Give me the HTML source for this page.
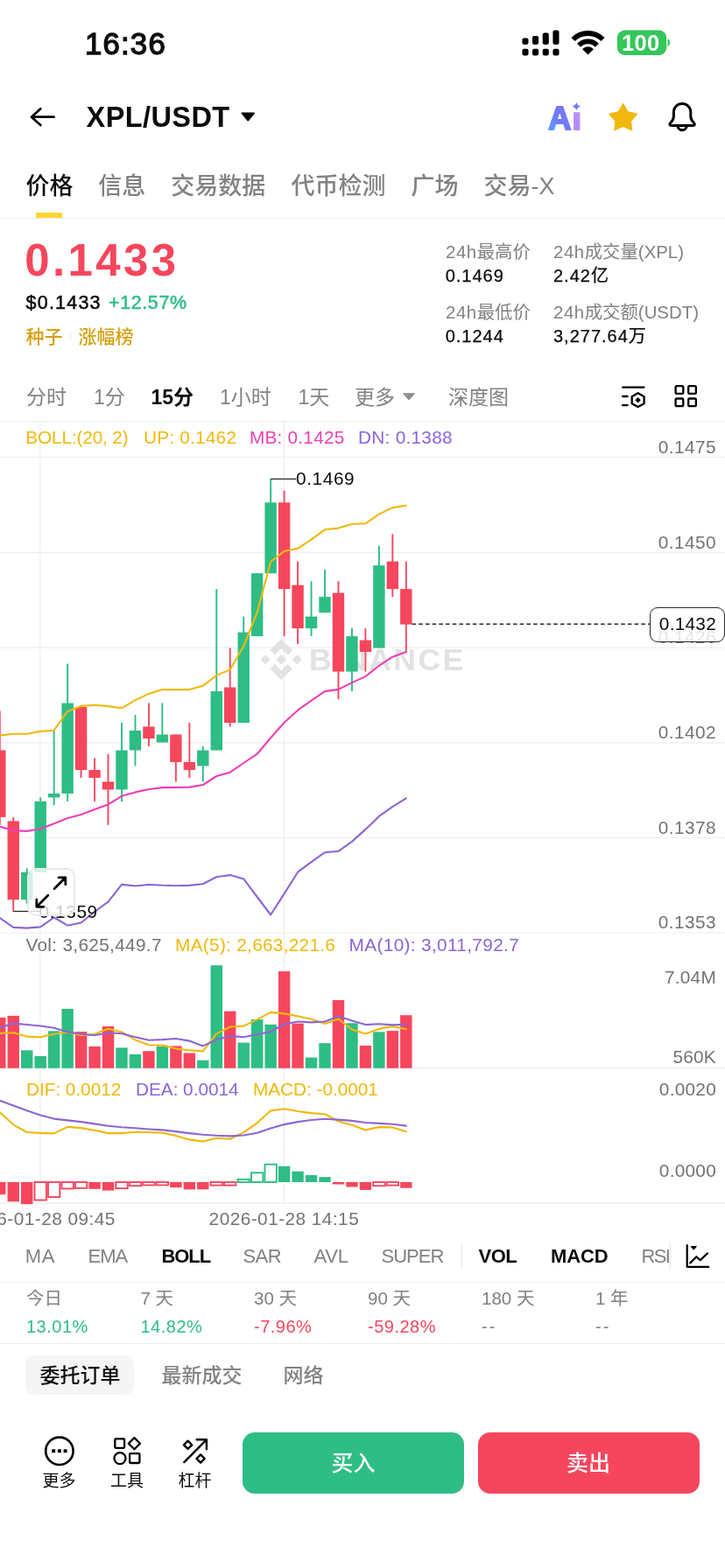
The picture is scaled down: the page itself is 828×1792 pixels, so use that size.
<!DOCTYPE html>
<html lang="zh-CN">
<head>
<meta charset="utf-8">
<meta name="viewport" content="width=828">
<title>XPL/USDT</title>
<style>
html,body{margin:0;padding:0;background:#fff;}
body{width:828px;height:1792px;position:relative;overflow:hidden;font-family:"Liberation Sans","Noto Sans CJK SC",sans-serif;color:#0B0B0B;}
#app{position:absolute;left:0;top:0;width:828px;height:1792px;overflow:hidden;background:#fff;}
#app div{position:absolute;white-space:nowrap;}
#app svg{position:absolute;left:0;top:0;}
.hl{left:0;width:828px;height:1px;background:#EEEEEE;}
svg text{font-family:"Liberation Sans","Noto Sans CJK SC",sans-serif;}
</style>
</head>
<body>
<div id="app">
<svg width="828" height="1792" viewBox="0 0 828 1792">
<g stroke="#EEEEEE" stroke-width="1.2" fill="none">
<path d="M0 522.5H828"/>
<path d="M0 631.3H828"/>
<path d="M0 740.1H828"/>
<path d="M0 848.8H828"/>
<path d="M0 957.4H828"/>
<path d="M0 1066.0H828"/>
<path d="M0 1220.9H828"/>
<path d="M0 1375.2H828"/>
<path d="M45.9 481.5V1375"/>
<path d="M324.4 481.5V1375"/>
</g>
<g fill="#E2E2E2">
<path d="M321.20 747.95L326.95 753.70L321.20 759.45L315.45 753.70ZM303.12 748.16L308.66 753.70L303.12 759.24L297.58 753.70ZM339.28 748.16L344.82 753.70L339.28 759.24L333.74 753.70Z"/>
<path fill="none" stroke="#E2E2E2" stroke-width="7.5" stroke-linejoin="miter" d="M311.17 745.76L321.20 735.73L331.23 745.76M311.17 761.64L321.20 771.67L331.23 761.64"/>
<text x="353" y="766.4" font-size="35.5" font-weight="700" letter-spacing="2.4" fill="#E2E2E2">BINANCE</text>
</g>
<path d="M-0.20 812.50V942.86" stroke="#F6465D" stroke-width="1.9"/>
<rect x="-6.90" y="857.45" width="13.4" height="76.41" fill="#F6465D"/>
<path d="M15.27 933.87V1041.75" stroke="#F6465D" stroke-width="1.9"/>
<rect x="8.57" y="938.37" width="13.4" height="89.90" fill="#F6465D"/>
<path d="M30.73 992.30V1032.76" stroke="#2EBD85" stroke-width="1.9"/>
<rect x="24.03" y="996.80" width="13.4" height="31.46" fill="#2EBD85"/>
<path d="M46.20 911.39V996.80" stroke="#2EBD85" stroke-width="1.9"/>
<rect x="39.50" y="915.89" width="13.4" height="80.91" fill="#2EBD85"/>
<path d="M61.67 834.98V920.38" stroke="#2EBD85" stroke-width="1.9"/>
<rect x="54.97" y="906.90" width="13.4" height="4.50" fill="#2EBD85"/>
<path d="M77.14 758.56V915.89" stroke="#2EBD85" stroke-width="1.9"/>
<rect x="70.44" y="803.51" width="13.4" height="103.38" fill="#2EBD85"/>
<path d="M92.60 808.01V888.92" stroke="#F6465D" stroke-width="1.9"/>
<rect x="85.90" y="808.01" width="13.4" height="71.92" fill="#F6465D"/>
<path d="M108.07 866.44V915.89" stroke="#F6465D" stroke-width="1.9"/>
<rect x="101.37" y="879.93" width="13.4" height="8.99" fill="#F6465D"/>
<path d="M123.54 861.95V942.86" stroke="#F6465D" stroke-width="1.9"/>
<rect x="116.84" y="893.41" width="13.4" height="8.99" fill="#F6465D"/>
<path d="M139.00 825.99V915.89" stroke="#2EBD85" stroke-width="1.9"/>
<rect x="132.30" y="857.45" width="13.4" height="44.95" fill="#2EBD85"/>
<path d="M154.47 817.00V875.43" stroke="#2EBD85" stroke-width="1.9"/>
<rect x="147.77" y="834.98" width="13.4" height="22.47" fill="#2EBD85"/>
<path d="M169.94 803.51V852.96" stroke="#F6465D" stroke-width="1.9"/>
<rect x="163.24" y="830.48" width="13.4" height="13.49" fill="#F6465D"/>
<path d="M185.40 803.51V848.46" stroke="#2EBD85" stroke-width="1.9"/>
<rect x="178.70" y="839.47" width="13.4" height="8.99" fill="#2EBD85"/>
<path d="M200.87 839.47V893.41" stroke="#F6465D" stroke-width="1.9"/>
<rect x="194.17" y="839.47" width="13.4" height="31.47" fill="#F6465D"/>
<path d="M216.34 825.99V888.92" stroke="#F6465D" stroke-width="1.9"/>
<rect x="209.64" y="870.94" width="13.4" height="8.99" fill="#F6465D"/>
<path d="M231.81 852.96V893.41" stroke="#2EBD85" stroke-width="1.9"/>
<rect x="225.11" y="857.45" width="13.4" height="17.98" fill="#2EBD85"/>
<path d="M247.27 673.16V857.45" stroke="#2EBD85" stroke-width="1.9"/>
<rect x="240.57" y="790.03" width="13.4" height="67.42" fill="#2EBD85"/>
<path d="M262.74 740.58V830.48" stroke="#F6465D" stroke-width="1.9"/>
<rect x="256.04" y="785.53" width="13.4" height="40.46" fill="#F6465D"/>
<path d="M278.21 704.62V825.99" stroke="#2EBD85" stroke-width="1.9"/>
<rect x="271.51" y="722.61" width="13.4" height="103.38" fill="#2EBD85"/>
<path d="M293.67 655.18V727.10" stroke="#2EBD85" stroke-width="1.9"/>
<rect x="286.97" y="655.18" width="13.4" height="71.92" fill="#2EBD85"/>
<path d="M309.14 547.30V655.18" stroke="#2EBD85" stroke-width="1.9"/>
<rect x="302.44" y="574.27" width="13.4" height="80.91" fill="#2EBD85"/>
<path d="M324.61 560.78V727.10" stroke="#F6465D" stroke-width="1.9"/>
<rect x="317.91" y="574.27" width="13.4" height="98.89" fill="#F6465D"/>
<path d="M340.07 641.69V736.09" stroke="#F6465D" stroke-width="1.9"/>
<rect x="333.37" y="668.66" width="13.4" height="49.44" fill="#F6465D"/>
<path d="M355.54 664.17V727.10" stroke="#2EBD85" stroke-width="1.9"/>
<rect x="348.84" y="704.62" width="13.4" height="13.48" fill="#2EBD85"/>
<path d="M371.01 650.68V700.13" stroke="#2EBD85" stroke-width="1.9"/>
<rect x="364.31" y="682.15" width="13.4" height="17.98" fill="#2EBD85"/>
<path d="M386.48 664.17V799.02" stroke="#F6465D" stroke-width="1.9"/>
<rect x="379.78" y="677.65" width="13.4" height="89.90" fill="#F6465D"/>
<path d="M401.94 718.11V790.03" stroke="#2EBD85" stroke-width="1.9"/>
<rect x="395.24" y="727.10" width="13.4" height="40.46" fill="#2EBD85"/>
<path d="M417.41 718.11V767.55" stroke="#F6465D" stroke-width="1.9"/>
<rect x="410.71" y="731.60" width="13.4" height="13.48" fill="#F6465D"/>
<path d="M432.88 623.71V740.58" stroke="#2EBD85" stroke-width="1.9"/>
<rect x="426.18" y="646.19" width="13.4" height="94.39" fill="#2EBD85"/>
<path d="M448.34 610.23V682.15" stroke="#F6465D" stroke-width="1.9"/>
<rect x="441.64" y="641.69" width="13.4" height="31.47" fill="#F6465D"/>
<path d="M463.81 641.69V745.08" stroke="#F6465D" stroke-width="1.9"/>
<rect x="457.11" y="673.16" width="13.4" height="40.46" fill="#F6465D"/>
<polyline points="-0.20,840.50 15.27,838.80 30.73,838.80 46.20,835.90 61.67,834.70 77.14,812.90 92.60,806.90 108.07,805.70 123.54,807.10 139.00,809.30 154.47,800.10 169.94,792.90 185.40,788.10 200.87,788.10 216.34,788.10 231.81,783.80 247.27,771.90 262.74,765.40 278.21,738.60 293.67,700.00 309.14,642.00 324.61,629.90 340.07,626.80 355.54,616.60 371.01,605.30 386.48,603.60 401.94,599.00 417.41,598.30 432.88,587.60 448.34,580.10 463.81,577.70" fill="none" stroke="#F0B90B" stroke-width="2.1" stroke-linejoin="round" stroke-linecap="round"/>
<polyline points="-0.20,944.80 15.27,949.10 30.73,949.90 46.20,947.20 61.67,941.20 77.14,935.10 92.60,931.00 108.07,925.00 123.54,919.40 139.00,909.80 154.47,905.40 169.94,902.00 185.40,900.10 200.87,899.90 216.34,899.60 231.81,897.00 247.27,887.00 262.74,882.70 278.21,872.00 293.67,861.70 309.14,843.30 324.61,825.70 340.07,811.70 355.54,800.60 371.01,790.10 386.48,787.90 401.94,780.10 417.41,773.10 432.88,760.80 448.34,750.70 463.81,745.10" fill="none" stroke="#EB40B5" stroke-width="2.1" stroke-linejoin="round" stroke-linecap="round"/>
<polyline points="-0.20,1049.00 15.27,1059.90 30.73,1060.60 46.20,1059.40 61.67,1048.50 77.14,1057.70 92.60,1054.50 108.07,1042.00 123.54,1030.70 139.00,1010.90 154.47,1012.50 169.94,1011.00 185.40,1011.80 200.87,1012.20 216.34,1011.90 231.81,1010.20 247.27,1002.30 262.74,1000.10 278.21,1004.40 293.67,1025.00 309.14,1045.50 324.61,1021.40 340.07,996.70 355.54,985.10 371.01,974.20 386.48,972.80 401.94,961.90 417.41,947.90 432.88,932.90 448.34,921.80 463.81,912.40" fill="none" stroke="#8C66D6" stroke-width="2.1" stroke-linejoin="round" stroke-linecap="round"/>
<path d="M309.14 547.4H338" stroke="#222" stroke-width="1.2"/>
<path d="M15.27 1041.5H46" stroke="#222" stroke-width="1.2"/>
<path d="M470.51 713.3H742" stroke="#2b2b2b" stroke-width="1.4" stroke-dasharray="4.6 3.1"/>
<rect x="-6.90" y="1162.90" width="13.4" height="57.90" fill="#F6465D"/>
<rect x="8.57" y="1160.90" width="13.4" height="59.90" fill="#F6465D"/>
<rect x="24.03" y="1200.30" width="13.4" height="20.50" fill="#2EBD85"/>
<rect x="39.50" y="1207.00" width="13.4" height="13.80" fill="#2EBD85"/>
<rect x="54.97" y="1178.30" width="13.4" height="42.50" fill="#2EBD85"/>
<rect x="70.44" y="1153.00" width="13.4" height="67.80" fill="#2EBD85"/>
<rect x="85.90" y="1179.10" width="13.4" height="41.70" fill="#F6465D"/>
<rect x="101.37" y="1195.90" width="13.4" height="24.90" fill="#F6465D"/>
<rect x="116.84" y="1173.00" width="13.4" height="47.80" fill="#F6465D"/>
<rect x="132.30" y="1197.40" width="13.4" height="23.40" fill="#2EBD85"/>
<rect x="147.77" y="1204.90" width="13.4" height="15.90" fill="#2EBD85"/>
<rect x="163.24" y="1201.20" width="13.4" height="19.60" fill="#F6465D"/>
<rect x="178.70" y="1195.70" width="13.4" height="25.10" fill="#2EBD85"/>
<rect x="194.17" y="1195.40" width="13.4" height="25.40" fill="#F6465D"/>
<rect x="209.64" y="1203.50" width="13.4" height="17.30" fill="#F6465D"/>
<rect x="225.11" y="1211.70" width="13.4" height="9.10" fill="#2EBD85"/>
<rect x="240.57" y="1103.20" width="13.4" height="117.60" fill="#2EBD85"/>
<rect x="256.04" y="1155.70" width="13.4" height="65.10" fill="#F6465D"/>
<rect x="271.51" y="1191.60" width="13.4" height="29.20" fill="#2EBD85"/>
<rect x="286.97" y="1165.10" width="13.4" height="55.70" fill="#2EBD85"/>
<rect x="302.44" y="1170.80" width="13.4" height="50.00" fill="#2EBD85"/>
<rect x="317.91" y="1110.10" width="13.4" height="110.70" fill="#F6465D"/>
<rect x="333.37" y="1169.60" width="13.4" height="51.20" fill="#F6465D"/>
<rect x="348.84" y="1208.60" width="13.4" height="12.20" fill="#2EBD85"/>
<rect x="364.31" y="1192.20" width="13.4" height="28.60" fill="#2EBD85"/>
<rect x="379.78" y="1143.00" width="13.4" height="77.80" fill="#F6465D"/>
<rect x="395.24" y="1169.30" width="13.4" height="51.50" fill="#2EBD85"/>
<rect x="410.71" y="1195.00" width="13.4" height="25.80" fill="#F6465D"/>
<rect x="426.18" y="1179.30" width="13.4" height="41.50" fill="#2EBD85"/>
<rect x="441.64" y="1178.10" width="13.4" height="42.70" fill="#F6465D"/>
<rect x="457.11" y="1160.20" width="13.4" height="60.60" fill="#F6465D"/>
<polyline points="-0.20,1180.90 15.27,1180.30 30.73,1184.60 46.20,1185.20 61.67,1181.70 77.14,1179.70 92.60,1183.20 108.07,1181.70 123.54,1175.70 139.00,1179.40 154.47,1188.40 169.94,1194.20 185.40,1194.50 200.87,1198.60 216.34,1200.30 231.81,1201.40 247.27,1181.40 262.74,1173.50 278.21,1172.60 293.67,1165.10 309.14,1156.90 324.61,1158.40 340.07,1161.40 355.54,1164.80 371.01,1169.90 386.48,1164.50 401.94,1176.50 417.41,1181.40 432.88,1175.90 448.34,1172.90 463.81,1176.20" fill="none" stroke="#F0B90B" stroke-width="2.1" stroke-linejoin="round" stroke-linecap="round"/>
<polyline points="-0.20,1174.50 15.27,1169.60 30.73,1171.00 46.20,1172.50 61.67,1174.80 77.14,1179.40 92.60,1181.70 108.07,1183.20 123.54,1180.30 139.00,1181.20 154.47,1185.20 169.94,1188.70 185.40,1188.10 200.87,1187.00 216.34,1189.60 231.81,1195.40 247.27,1188.30 262.74,1184.10 278.21,1185.30 293.67,1182.30 309.14,1179.00 324.61,1170.50 340.07,1167.50 355.54,1168.40 371.01,1167.50 386.48,1161.40 401.94,1166.60 417.41,1171.10 432.88,1170.20 448.34,1171.40 463.81,1170.80" fill="none" stroke="#8C66D6" stroke-width="2.1" stroke-linejoin="round" stroke-linecap="round"/>
<rect x="-6.90" y="1351.00" width="13.4" height="14.20" fill="#F6465D"/>
<rect x="8.57" y="1351.00" width="13.4" height="22.30" fill="#F6465D"/>
<rect x="24.03" y="1351.00" width="13.4" height="25.20" fill="#F6465D"/>
<rect x="39.50" y="1351.00" width="13.40" height="20.55" fill="none" stroke="#F6465D" stroke-width="1.9"/>
<rect x="54.97" y="1351.00" width="13.40" height="17.05" fill="none" stroke="#F6465D" stroke-width="1.9"/>
<rect x="70.44" y="1351.00" width="13.40" height="7.45" fill="none" stroke="#F6465D" stroke-width="1.9"/>
<rect x="85.90" y="1351.00" width="13.40" height="6.85" fill="none" stroke="#F6465D" stroke-width="1.9"/>
<rect x="101.37" y="1351.00" width="13.4" height="7.80" fill="#F6465D"/>
<rect x="116.84" y="1351.00" width="13.4" height="9.60" fill="#F6465D"/>
<rect x="132.30" y="1351.00" width="13.40" height="7.15" fill="none" stroke="#F6465D" stroke-width="1.9"/>
<rect x="147.77" y="1351.00" width="13.40" height="4.25" fill="none" stroke="#F6465D" stroke-width="1.9"/>
<rect x="163.24" y="1351.00" width="13.40" height="3.45" fill="none" stroke="#F6465D" stroke-width="1.9"/>
<rect x="178.70" y="1351.00" width="13.40" height="3.45" fill="none" stroke="#F6465D" stroke-width="1.9"/>
<rect x="194.17" y="1351.00" width="13.4" height="6.10" fill="#F6465D"/>
<rect x="209.64" y="1351.00" width="13.4" height="8.40" fill="#F6465D"/>
<rect x="225.11" y="1351.00" width="13.4" height="8.30" fill="#F6465D"/>
<rect x="240.57" y="1351.00" width="13.40" height="3.65" fill="none" stroke="#F6465D" stroke-width="1.9"/>
<rect x="256.04" y="1351.00" width="13.40" height="3.65" fill="none" stroke="#F6465D" stroke-width="1.9"/>
<rect x="271.51" y="1347.90" width="13.40" height="3.10" fill="none" stroke="#2EBD85" stroke-width="1.9"/>
<rect x="286.97" y="1340.30" width="13.40" height="10.70" fill="none" stroke="#2EBD85" stroke-width="1.9"/>
<rect x="302.44" y="1330.70" width="13.40" height="20.30" fill="none" stroke="#2EBD85" stroke-width="1.9"/>
<rect x="317.91" y="1332.75" width="13.4" height="18.25" fill="#2EBD85"/>
<rect x="333.37" y="1338.75" width="13.4" height="12.25" fill="#2EBD85"/>
<rect x="348.84" y="1343.05" width="13.4" height="7.95" fill="#2EBD85"/>
<rect x="364.31" y="1345.15" width="13.4" height="5.85" fill="#2EBD85"/>
<rect x="379.78" y="1351.00" width="13.4" height="2.50" fill="#F6465D"/>
<rect x="395.24" y="1351.00" width="13.4" height="5.50" fill="#F6465D"/>
<rect x="410.71" y="1351.00" width="13.4" height="8.90" fill="#F6465D"/>
<rect x="426.18" y="1351.00" width="13.40" height="4.25" fill="none" stroke="#F6465D" stroke-width="1.9"/>
<rect x="441.64" y="1351.00" width="13.40" height="3.65" fill="none" stroke="#F6465D" stroke-width="1.9"/>
<rect x="457.11" y="1351.00" width="13.4" height="6.70" fill="#F6465D"/>
<polyline points="-0.20,1271.40 15.27,1285.30 30.73,1294.00 46.20,1294.90 61.67,1295.40 77.14,1287.90 92.60,1289.10 108.07,1291.70 123.54,1295.10 139.00,1295.10 154.47,1293.70 169.94,1294.00 185.40,1294.60 200.87,1298.00 216.34,1302.40 231.81,1304.60 247.27,1300.80 262.74,1301.70 278.21,1294.10 293.67,1283.30 309.14,1269.40 324.61,1267.30 340.07,1270.00 355.54,1272.10 371.01,1273.30 386.48,1281.50 401.94,1285.70 417.41,1291.40 432.88,1288.10 448.34,1288.40 463.81,1293.20" fill="none" stroke="#F0B90B" stroke-width="2.1" stroke-linejoin="round" stroke-linecap="round"/>
<polyline points="-0.20,1257.80 15.27,1263.60 30.73,1269.30 46.20,1274.60 61.67,1278.60 77.14,1280.40 92.60,1282.10 108.07,1284.40 123.54,1286.70 139.00,1288.20 154.47,1289.30 169.94,1290.50 185.40,1291.40 200.87,1293.10 216.34,1295.10 231.81,1296.80 247.27,1297.80 262.74,1298.40 278.21,1297.50 293.67,1294.70 309.14,1289.60 324.61,1285.10 340.07,1282.10 355.54,1280.00 371.01,1278.70 386.48,1279.60 401.94,1280.90 417.41,1283.00 432.88,1283.90 448.34,1284.80 463.81,1286.60" fill="none" stroke="#8C66D6" stroke-width="2.1" stroke-linejoin="round" stroke-linecap="round"/>
</svg>
<div style="top:33.34px;font-size:34.8px;line-height:34.8px;color:#0B0B0B;letter-spacing:1.2px;left:96.90px;-webkit-text-stroke:1.3px #0B0B0B;">16:36</div>
<div style="top:36.61px;font-size:25.5px;line-height:25.5px;color:#fff;font-weight:700;letter-spacing:0.3px;left:731.70px;transform:translateX(-50%);z-index:3;">100</div>
<div style="top:117.89px;font-size:32.5px;line-height:32.5px;color:#0B0B0B;font-weight:700;letter-spacing:0.4px;left:98.60px;">XPL/USDT</div>
<div style="top:199.94px;font-size:27px;line-height:27px;color:#0B0B0B;font-weight:500;left:29.50px;">价格</div>
<div style="top:199.94px;font-size:27px;line-height:27px;color:#828282;font-weight:500;left:112.30px;">信息</div>
<div style="top:199.94px;font-size:27px;line-height:27px;color:#828282;font-weight:500;left:195.30px;">交易数据</div>
<div style="top:199.94px;font-size:27px;line-height:27px;color:#828282;font-weight:500;left:332.40px;">代币检测</div>
<div style="top:199.94px;font-size:27px;line-height:27px;color:#828282;font-weight:500;left:469.40px;">广场</div>
<div style="top:199.94px;font-size:27px;line-height:27px;color:#828282;font-weight:500;left:552.40px;">交易-X</div>
<div style="left:41px;top:243px;width:29.5px;height:6px;background:#FCD535;"></div>
<div class="hl" style="top:249px;"></div>
<div style="top:271.73px;font-size:51px;line-height:51px;color:#F6465D;font-weight:700;letter-spacing:3.4px;left:28.20px;">0.1433</div>
<div style="top:336.40px;font-size:21.5px;line-height:21.5px;color:#0B0B0B;letter-spacing:1.2px;left:29.60px;-webkit-text-stroke:0.5px #0B0B0B;">$0.1433</div>
<div style="top:336.40px;font-size:21.5px;line-height:21.5px;color:#2EBD85;letter-spacing:0.6px;left:124.00px;-webkit-text-stroke:0.5px #2EBD85;">+12.57%</div>
<div style="top:373.72px;font-size:21px;line-height:21px;color:#D6A010;font-weight:500;left:29.50px;">种子</div>
<div style="left:80px;top:379px;width:1px;height:10px;background:#EAEAEA;"></div>
<div style="top:373.72px;font-size:21px;line-height:21px;color:#D6A010;font-weight:500;left:89.50px;">涨幅榜</div>
<div style="top:277.73px;font-size:20.4px;line-height:20.4px;color:#828282;left:509.00px;"><span style="letter-spacing:0.55px">24h</span>最高价</div>
<div style="top:304.57px;font-size:20px;line-height:20px;color:#0B0B0B;letter-spacing:1.0px;left:508.70px;-webkit-text-stroke:0.25px #0B0B0B;">0.1469</div>
<div style="top:277.73px;font-size:20.4px;line-height:20.4px;color:#828282;left:632.00px;"><span style="letter-spacing:0.55px">24h</span>成交量(XPL)</div>
<div style="top:304.57px;font-size:20px;line-height:20px;color:#0B0B0B;letter-spacing:1.0px;left:632.00px;-webkit-text-stroke:0.25px #0B0B0B;">2.42亿</div>
<div style="top:347.23px;font-size:20.4px;line-height:20.4px;color:#828282;left:509.00px;"><span style="letter-spacing:0.55px">24h</span>最低价</div>
<div style="top:374.07px;font-size:20px;line-height:20px;color:#0B0B0B;letter-spacing:1.0px;left:508.70px;-webkit-text-stroke:0.25px #0B0B0B;">0.1244</div>
<div style="top:347.23px;font-size:20.4px;line-height:20.4px;color:#828282;left:632.00px;"><span style="letter-spacing:0.55px">24h</span>成交额(USDT)</div>
<div style="top:374.07px;font-size:20px;line-height:20px;color:#0B0B0B;letter-spacing:1.0px;left:632.00px;-webkit-text-stroke:0.25px #0B0B0B;">3,277.64万</div>
<div style="top:442.53px;font-size:23px;line-height:23px;color:#828282;left:30.00px;">分时</div>
<div style="top:442.53px;font-size:23px;line-height:23px;color:#828282;left:107.00px;">1分</div>
<div style="top:442.53px;font-size:23px;line-height:23px;color:#0B0B0B;font-weight:700;left:172.50px;">15分</div>
<div style="top:442.53px;font-size:23px;line-height:23px;color:#828282;left:251.00px;">1小时</div>
<div style="top:442.53px;font-size:23px;line-height:23px;color:#828282;left:340.50px;">1天</div>
<div style="top:442.53px;font-size:23px;line-height:23px;color:#828282;left:405.00px;">更多</div>
<div style="top:442.53px;font-size:23px;line-height:23px;color:#828282;left:512.00px;">深度图</div>
<div class="hl" style="top:481px;"></div>
<div style="top:1424.78px;font-size:22px;line-height:22px;color:#828282;letter-spacing:0.6px;left:28.80px;">MA</div>
<div style="top:1424.78px;font-size:22px;line-height:22px;color:#828282;letter-spacing:-1.0px;left:100.50px;">EMA</div>
<div style="top:1424.78px;font-size:22px;line-height:22px;color:#0B0B0B;font-weight:700;letter-spacing:-1.1px;left:184.50px;">BOLL</div>
<div style="top:1424.78px;font-size:22px;line-height:22px;color:#828282;letter-spacing:-0.6px;left:277.50px;">SAR</div>
<div style="top:1424.78px;font-size:22px;line-height:22px;color:#828282;letter-spacing:-0.2px;left:358.50px;">AVL</div>
<div style="top:1424.78px;font-size:22px;line-height:22px;color:#828282;letter-spacing:-1.0px;left:435.50px;">SUPER</div>
<div style="top:1424.78px;font-size:22px;line-height:22px;color:#0B0B0B;font-weight:700;letter-spacing:-0.5px;left:546.50px;">VOL</div>
<div style="top:1424.78px;font-size:22px;line-height:22px;color:#0B0B0B;font-weight:700;letter-spacing:-0.1px;left:629.00px;">MACD</div>
<div style="left:730px;top:1420px;width:35px;height:32px;overflow:hidden;"><div style="left:2.6px;top:4.78px;font-size:22px;line-height:22px;color:#828282;letter-spacing:-1.7px;">RSI</div></div>
<div style="left:527px;top:1421px;width:1px;height:29px;background:#E4E4E4;"></div>
<div style="left:765px;top:1421px;width:1px;height:29px;background:#E4E4E4;"></div>
<div class="hl" style="top:1465px;"></div>
<div style="top:1474.15px;font-size:20.5px;line-height:20.5px;color:#828282;left:30.00px;">今日</div>
<div style="top:1505.57px;font-size:20px;line-height:20px;color:#2EBD85;letter-spacing:0.5px;left:30.00px;">13.01%</div>
<div style="top:1474.15px;font-size:20.5px;line-height:20.5px;color:#828282;left:160.50px;">7 天</div>
<div style="top:1505.57px;font-size:20px;line-height:20px;color:#2EBD85;letter-spacing:0.5px;left:160.50px;">14.82%</div>
<div style="top:1474.15px;font-size:20.5px;line-height:20.5px;color:#828282;left:290.00px;">30 天</div>
<div style="top:1505.57px;font-size:20px;line-height:20px;color:#F6465D;letter-spacing:0.5px;left:290.00px;">-7.96%</div>
<div style="top:1474.15px;font-size:20.5px;line-height:20.5px;color:#828282;left:420.00px;">90 天</div>
<div style="top:1505.57px;font-size:20px;line-height:20px;color:#F6465D;letter-spacing:0.5px;left:420.00px;">-59.28%</div>
<div style="top:1474.15px;font-size:20.5px;line-height:20.5px;color:#828282;left:550.00px;">180 天</div>
<div style="top:1505.57px;font-size:20px;line-height:20px;color:#828282;letter-spacing:2.2px;left:550.00px;">--</div>
<div style="top:1474.15px;font-size:20.5px;line-height:20.5px;color:#828282;left:680.00px;">1 年</div>
<div style="top:1505.57px;font-size:20px;line-height:20px;color:#828282;letter-spacing:2.2px;left:680.00px;">--</div>
<div class="hl" style="top:1534.5px;"></div>
<div style="left:29px;top:1548.5px;width:123.5px;height:45.5px;border-radius:10px;background:#F5F5F5;"></div>
<div style="top:1560.83px;font-size:23px;line-height:23px;color:#0B0B0B;font-weight:500;left:45.50px;">委托订单</div>
<div style="top:1560.83px;font-size:23px;line-height:23px;color:#828282;font-weight:500;left:184.50px;">最新成交</div>
<div style="top:1560.83px;font-size:23px;line-height:23px;color:#828282;font-weight:500;left:323.50px;">网络</div>
<div style="top:1683.42px;font-size:19px;line-height:19px;color:#0B0B0B;left:67.50px;transform:translateX(-50%);">更多</div>
<div style="top:1683.42px;font-size:19px;line-height:19px;color:#0B0B0B;left:145.00px;transform:translateX(-50%);">工具</div>
<div style="top:1683.42px;font-size:19px;line-height:19px;color:#0B0B0B;left:222.50px;transform:translateX(-50%);">杠杆</div>
<div style="left:277px;top:1637px;width:253px;height:70px;border-radius:14px;background:#2EBD85;"></div>
<div style="left:546px;top:1637px;width:253px;height:70px;border-radius:14px;background:#F6465D;"></div>
<div style="top:1660.34px;font-size:25px;line-height:25px;color:#fff;font-weight:500;left:403.50px;transform:translateX(-50%);">买入</div>
<div style="top:1660.34px;font-size:25px;line-height:25px;color:#fff;font-weight:500;left:672.00px;transform:translateX(-50%);">卖出</div>
<div style="top:500.99px;font-size:20.8px;line-height:20.8px;color:#737373;letter-spacing:0.46px;right:10.00px;">0.1475</div>
<div style="top:609.69px;font-size:20.8px;line-height:20.8px;color:#737373;letter-spacing:0.46px;right:10.00px;">0.1450</div>
<div style="top:718.49px;font-size:20.8px;line-height:20.8px;color:#737373;letter-spacing:0.46px;right:10.00px;">0.1426</div>
<div style="top:827.19px;font-size:20.8px;line-height:20.8px;color:#737373;letter-spacing:0.46px;right:10.00px;">0.1402</div>
<div style="top:935.79px;font-size:20.8px;line-height:20.8px;color:#737373;letter-spacing:0.46px;right:10.00px;">0.1378</div>
<div style="top:1043.59px;font-size:20.8px;line-height:20.8px;color:#737373;letter-spacing:0.46px;right:10.00px;">0.1353</div>
<div style="top:1106.89px;font-size:20.8px;line-height:20.8px;color:#737373;letter-spacing:0.26px;right:10.00px;">7.04M</div>
<div style="top:1197.89px;font-size:20.8px;line-height:20.8px;color:#737373;letter-spacing:0.26px;right:10.00px;">560K</div>
<div style="top:1234.89px;font-size:20.8px;line-height:20.8px;color:#737373;letter-spacing:0.26px;right:10.00px;">0.0020</div>
<div style="top:1327.89px;font-size:20.8px;line-height:20.8px;color:#737373;letter-spacing:0.26px;right:10.00px;">0.0000</div>
<div style="top:489.69px;font-size:20.8px;line-height:20.8px;color:#F0B90B;letter-spacing:-0.15px;left:29.30px;">BOLL:(20, 2)</div>
<div style="top:489.69px;font-size:20.8px;line-height:20.8px;color:#F0B90B;letter-spacing:0.21px;left:164.00px;">UP: 0.1462</div>
<div style="top:489.69px;font-size:20.8px;line-height:20.8px;color:#EB40B5;letter-spacing:0.21px;left:285.00px;">MB: 0.1425</div>
<div style="top:489.69px;font-size:20.8px;line-height:20.8px;color:#8C66D6;letter-spacing:0.26px;left:409.00px;">DN: 0.1388</div>
<div style="top:1069.99px;font-size:20.8px;line-height:20.8px;color:#737373;letter-spacing:0.32px;left:29.40px;">Vol: 3,625,449.7</div>
<div style="top:1069.99px;font-size:20.8px;line-height:20.8px;color:#F0B90B;letter-spacing:0.28px;left:200.10px;">MA(5): 2,663,221.6</div>
<div style="top:1069.99px;font-size:20.8px;line-height:20.8px;color:#8C66D6;letter-spacing:0.34px;left:398.60px;">MA(10): 3,011,792.7</div>
<div style="top:1234.69px;font-size:20.8px;line-height:20.8px;color:#F0B90B;letter-spacing:-0.04px;left:30.00px;">DIF: 0.0012</div>
<div style="top:1234.69px;font-size:20.8px;line-height:20.8px;color:#8C66D6;letter-spacing:-0.04px;left:155.00px;">DEA: 0.0014</div>
<div style="top:1234.69px;font-size:20.8px;line-height:20.8px;color:#F0B90B;letter-spacing:-0.04px;left:289.00px;">MACD: -0.0001</div>
<div style="top:536.69px;font-size:20.8px;line-height:20.8px;color:#0B0B0B;letter-spacing:0.61px;left:338.00px;">0.1469</div>
<div style="top:1031.69px;font-size:20.8px;line-height:20.8px;color:#0B0B0B;letter-spacing:0.61px;left:44.50px;">0.1359</div>
<div style="top:1383.19px;font-size:20.8px;line-height:20.8px;color:#737373;letter-spacing:0.46px;left:46.00px;transform:translateX(-50%);">2026-01-28 09:45</div>
<div style="top:1383.19px;font-size:20.8px;line-height:20.8px;color:#737373;letter-spacing:0.46px;left:324.40px;transform:translateX(-50%);">2026-01-28 14:15</div>
<div style="left:741.5px;top:693.5px;width:84.5px;height:38px;border:1.2px solid #2a2a2a;border-radius:9px;background:rgba(255,255,255,0.82);box-sizing:content-box;"></div>
<div style="top:703.19px;font-size:20.8px;line-height:20.8px;color:#0B0B0B;letter-spacing:0.26px;right:10.00px;">0.1432</div>
<div style="left:31px;top:992px;width:51px;height:51px;border:2px solid #E9E9E9;border-radius:10px;background:rgba(255,255,255,0.78);"></div>
<svg width="828" height="1792" viewBox="0 0 828 1792" style="z-index:2;pointer-events:none">
<defs>
<linearGradient id="gA" x1="0" y1="1" x2="1" y2="0"><stop offset="0" stop-color="#5FA8FF"/><stop offset="0.45" stop-color="#6C7DFB"/><stop offset="1" stop-color="#8A6CF6"/></linearGradient>
<linearGradient id="gI" x1="0" y1="1" x2="1" y2="0"><stop offset="0" stop-color="#A884F8"/><stop offset="0.72" stop-color="#BE93F9"/><stop offset="0.95" stop-color="#F59A5A"/></linearGradient>
<clipPath id="noDot"><rect x="650" y="128.2" width="20" height="24"/></clipPath>
</defs>
<g fill="#000">
<rect x="596.4" y="43.4" width="7.1" height="7.5" rx="2.1"/>
<rect x="596.4" y="55.7" width="7.1" height="7.8" rx="2.1"/>
<rect x="608.0" y="41.0" width="7.1" height="9.9" rx="2.1"/>
<rect x="608.0" y="55.7" width="7.1" height="7.8" rx="2.1"/>
<rect x="619.7" y="37.6" width="7.1" height="13.3" rx="2.1"/>
<rect x="619.7" y="55.7" width="7.1" height="7.8" rx="2.1"/>
<rect x="631.4" y="34.5" width="7.1" height="16.4" rx="2.1"/>
<rect x="631.4" y="55.7" width="7.1" height="7.8" rx="2.1"/>
</g>
<path d="M654.46 45.06A24.1 24.1 0 0 1 688.54 45.06" fill="none" stroke="#000" stroke-width="5.8"/>
<path d="M661.11 51.71A14.7 14.7 0 0 1 681.89 51.71" fill="none" stroke="#000" stroke-width="5.8"/>
<path d="M671.5 62.1L665.56 56.16A8.4 8.4 0 0 1 677.44 56.16Z" fill="#000" stroke="#000" stroke-width="0.8" stroke-linejoin="round"/>
<rect x="704.9" y="34.5" width="56.3" height="28.5" rx="8.6" fill="#34C759"/>
<path d="M762.5 44.3c1.6 0.6 2.5 2.3 2.5 4.5s-0.9 3.9-2.5 4.5z" fill="#34C759"/>
<path d="M46.3 124.3L36 133.7L46.3 143.1M36.3 133.7H61.6" fill="none" stroke="#000" stroke-width="2.7" stroke-linecap="round" stroke-linejoin="round"/>
<path d="M276.4 129.3H290.1L283.25 137.6Z" fill="#000" stroke="#000" stroke-width="1.8" stroke-linejoin="round"/>
<text x="625.9" y="148.2" font-size="36.6" font-weight="700" fill="url(#gA)" stroke="url(#gA)" stroke-width="1.9" stroke-linejoin="round">A</text>
<text x="653.3" y="147.9" font-size="40" font-weight="700" fill="url(#gI)" stroke="url(#gI)" stroke-width="1.8" stroke-linejoin="round" clip-path="url(#noDot)">i</text>
<path d="M658.3 116.4Q659.1999999999999 120.6 663.4 121.5Q659.1999999999999 122.4 658.3 126.6Q657.4 122.4 653.1999999999999 121.5Q657.4 120.6 658.3 116.4Z" fill="#6B7EFF"/>
<path d="M711.67 118.60L716.70 127.80L727.60 130.40L720.30 138.40L721.60 148.60L711.67 144.30L701.80 148.60L703.00 138.40L695.90 130.40L706.60 127.80Z" fill="#F0B90B" stroke="#F0B90B" stroke-width="1.4" stroke-linejoin="round"/>
<path d="M769.4 128.1a9.7 9.7 0 0 1 19.4 0v4.6c0 3.2 1 5 3.3 7.3 1.9 1.9 1.6 3.5-0.9 3.5h-24.2c-2.5 0-2.8-1.6-0.9-3.5 2.3-2.3 3.3-4.1 3.3-7.3z" fill="none" stroke="#000" stroke-width="3" stroke-linejoin="round"/>
<path d="M773.9 143.6a5.2 5.2 0 0 0 10.4 0" fill="none" stroke="#000" stroke-width="3"/>
<path d="M460.8 449.8H473.2L467 456.6Z" fill="#8F8F8F" stroke="#8F8F8F" stroke-width="1.2" stroke-linejoin="round"/>
<g fill="none" stroke="#000" stroke-width="2.3" stroke-linecap="round" stroke-linejoin="round">
<path d="M711.1 442.6H735.4M711.1 453H716.6M711.1 463.2H716.6"/>
<path d="M728.6 449.2L735.6 453.2V461.2L728.6 465.1L721.7 461.2V453.2Z"/>
</g>
<path d="M728.6 454L731.8 457.2L728.6 460.4L725.4 457.2Z" fill="#000"/>
<g fill="none" stroke="#000" stroke-width="2.3">
<rect x="771.6" y="441.2" width="8.7" height="8.7" rx="1.4"/>
<rect x="771.6" y="455.5" width="8.7" height="8.7" rx="1.4"/>
<rect x="786.2" y="441.2" width="8.7" height="8.7" rx="1.4"/>
<rect x="786.2" y="455.5" width="8.7" height="8.7" rx="1.4"/>
</g>
<path d="M62 1015.7L74.7 1003M67 1002.9H74.8V1011M54.8 1023.3L41.9 1036.2M41.8 1028.2V1036.3H49.8" fill="none" stroke="#000" stroke-width="2.7" stroke-linecap="round" stroke-linejoin="round"/>
<path d="M784.7 1423.2V1447.8H809.3" fill="none" stroke="#000" stroke-width="2.2" stroke-linecap="round" stroke-linejoin="round"/>
<path d="M788.2 1443.4L795.4 1436.2L799.7 1440.3L808 1432.4" fill="none" stroke="#000" stroke-width="2.2" stroke-linecap="round" stroke-linejoin="round"/>
<path d="M789.2 1424.6H795.4L792.3 1428.2Z" fill="#000" stroke="#000" stroke-width="1" stroke-linejoin="round"/>
<circle cx="67.9" cy="1658.3" r="15.7" fill="none" stroke="#000" stroke-width="2.6"/>
<rect x="59.20" y="1656.3" width="4" height="4" rx="0.6" fill="#000"/>
<rect x="65.90" y="1656.3" width="4" height="4" rx="0.6" fill="#000"/>
<rect x="72.60" y="1656.3" width="4" height="4" rx="0.6" fill="#000"/>
<g fill="none" stroke="#000" stroke-width="2.3" stroke-linejoin="round">
<rect x="131.3" y="1644.3" width="10.8" height="10.5" rx="1"/>
<path d="M153.4 1643.1L160 1649.7L153.4 1656.3L146.8 1649.7Z"/>
<circle cx="137" cy="1666.6" r="6.5"/>
<rect x="148.1" y="1661.2" width="11.3" height="10.8" rx="1"/>
</g>
<g fill="none" stroke="#000" stroke-width="2.4" stroke-linejoin="round" stroke-linecap="round">
<path d="M210.3 1671.1L235.6 1645.6"/>
<path d="M224.7 1645.3H235.9V1656.3"/>
<path d="M214.6 1646.7L219.2 1651.3L214.6 1655.9L210 1651.3Z"/>
<path d="M229.1 1662.4L233.7 1667L229.1 1671.6L224.5 1667Z"/>
</g>
</svg>
</div>
</body>
</html>
